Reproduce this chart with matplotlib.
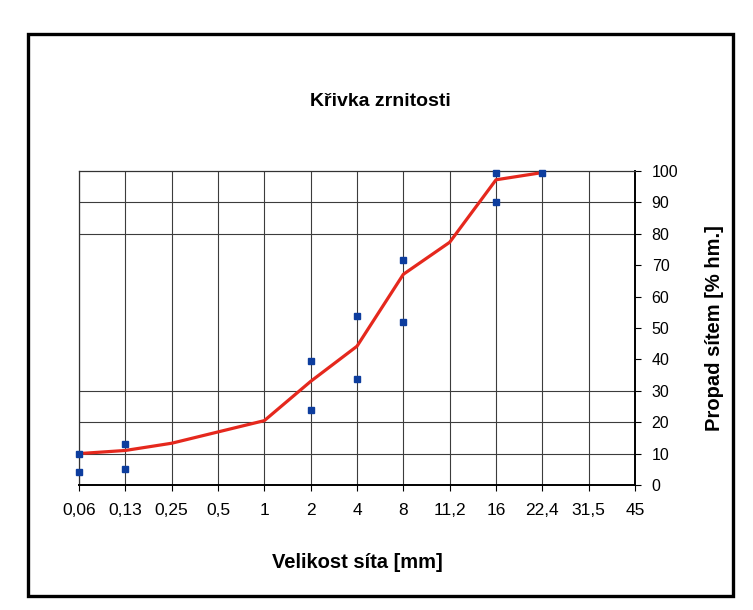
import matplotlib
matplotlib.use("Agg")
import matplotlib.pyplot as plt
from matplotlib.patches import Rectangle

plt.rcParams['font.family'] = ['Liberation Sans', 'DejaVu Sans']

# ---- data ----
categories = ['0,06', '0,13', '0,25', '0,5', '1', '2', '4', '8',
              '11,2', '16', '22,4', '31,5', '45']
curve_values = [10, 11, 13.3, 16.9, 20.5, 33, 44.2, 67.1, 77.3, 97.2, 99.5]
sample_sieves = ['0,06', '0,06', '0,13', '0,13', '2', '2', '4', '4',
                 '8', '8', '16', '16', '22,4']
sample_values = [9.9, 4.2, 13.0, 5.0, 39.6, 23.9, 53.8, 33.8,
                 71.6, 51.9, 99.5, 90.0, 99.5]
y_ticks = [0, 10, 20, 30, 40, 50, 60, 70, 80, 90, 100]
grid_values = [10, 20, 30, 80, 90]

title = 'Křivka zrnitosti'
x_title = 'Velikost síta [mm]'
y_title = 'Propad sítem [% hm.]'

W, H = 753, 610
fig = plt.figure(figsize=(W / 100, H / 100), dpi=100)

# outer chart frame
fig.patches.append(Rectangle((28 / W, 1 - 596 / H), (733 - 28) / W, (596 - 34) / H,
                             transform=fig.transFigure, fill=False,
                             edgecolor='black', linewidth=2.4, zorder=0))

ax = fig.add_axes([79 / W, 1 - 485 / H, (635 - 79) / W, (485 - 171) / H])

x_idx = list(range(len(categories)))
curve_x = x_idx[:len(curve_values)]
ax.plot(curve_x, curve_values, color='#e5281d', linewidth=2.3, zorder=3,
        solid_joinstyle='round', clip_on=False)
sx = [categories.index(c) for c in sample_sieves]
ax.plot(sx, sample_values, linestyle='none', marker='s', markersize=4.8,
        color='#0d3d9e', markeredgecolor='#0d3d9e', zorder=4, clip_on=False)

ax.set_xlim(0, len(categories) - 1)
ax.set_ylim(0, 100)

ax.set_xticks(x_idx)
ax.set_xticklabels(categories, fontsize=12.5)
ax.yaxis.tick_right()
ax.yaxis.remove_overlapping_locs = False
ax.set_yticks(y_ticks)
ax.set_yticklabels([str(v) for v in y_ticks], fontsize=11.5)
ax.set_yticks(grid_values, minor=True)

ax.tick_params(axis='x', which='major', direction='out', length=4, width=0.8,
               pad=9, colors='black')
ax.tick_params(axis='y', which='major', direction='out', length=4, width=0.8,
               pad=8, colors='black')
ax.tick_params(axis='y', which='minor', length=0)

ax.grid(axis='x', which='major', color='#3c3c3c', linewidth=0.8)
ax.yaxis.grid(True, which='minor', color='#3c3c3c', linewidth=0.8)
ax.yaxis.grid(False, which='major')
ax.set_axisbelow(True)

for side in ('left', 'top'):
    ax.spines[side].set_color('#333333')
    ax.spines[side].set_linewidth(0.9)
for side in ('right', 'bottom'):
    ax.spines[side].set_color('black')
    ax.spines[side].set_linewidth(1.4)

ax.set_xlabel(x_title, fontsize=14.5, fontweight='bold')
ax.xaxis.set_label_coords(0.5, -0.248)
ax.xaxis.label.set_va('center')

ax.yaxis.set_label_position('right')
ax.set_ylabel(y_title, fontsize=14.5, fontweight='bold', rotation=90)
ax.yaxis.set_label_coords(1 + 80 / 556, 0.5)
ax.yaxis.label.set_va('center')
ax.yaxis.label.set_ha('center')

fig.text(380 / W, 1 - 102 / H, title, fontsize=14, fontweight='bold',
         ha='center', va='center')

fig.savefig('out.png', dpi=100, facecolor='white')
